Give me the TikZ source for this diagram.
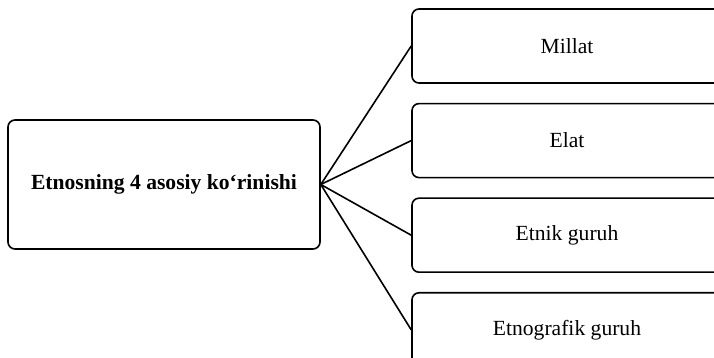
\documentclass[tikz,border=0pt]{standalone}
\usepackage{fontspec}
\setmainfont{Liberation Serif}
\usetikzlibrary{positioning}

\begin{document}
\begin{tikzpicture}[x=0.5pt, y=-0.5pt,
                    kind/.style={draw, rounded corners=3.5pt, line width=0.8pt,
                      minimum width=155pt, minimum height=37pt,
                      font=\fontsize{10.8}{13}\selectfont},
                    node distance=9.5pt]
\useasboundingbox (0,0) rectangle (714,358);
\node[kind, minimum width=156pt, minimum height=64.5pt,
      font=\fontsize{10.8}{13}\selectfont\bfseries] (etnos) at (164,184.5) {Etnosning 4 asosiy ko‘rinishi};
\node[kind] (millat) at (567,46) {Millat};
\node[kind, below=of millat] (elat) {Elat};
\node[kind, below=of elat] (etnik) {Etnik guruh};
\node[kind, below=of etnik] (etnograf) {Etnografik guruh};
\foreach \k in {millat,elat,etnik,etnograf}
  \draw[line width=0.8pt] (etnos.east) -- (\k.west);
\end{tikzpicture}
\end{document}
